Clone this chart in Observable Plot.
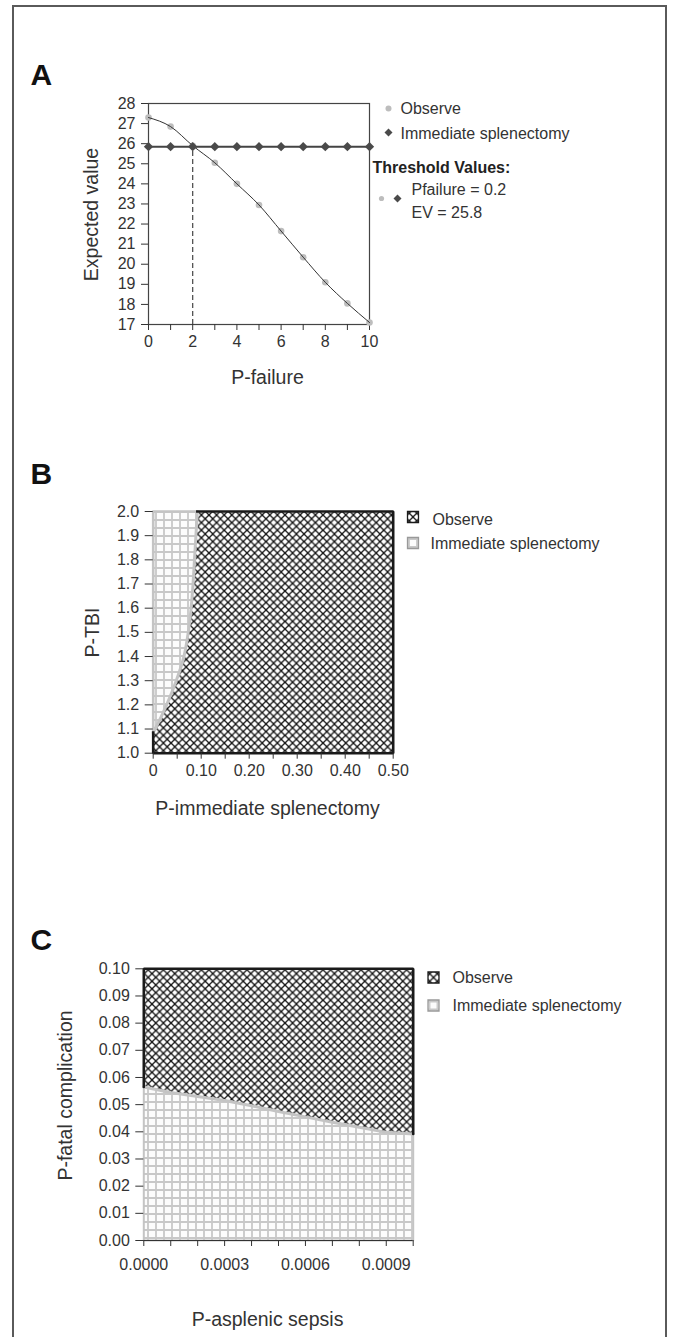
<!DOCTYPE html>
<html>
<head>
<meta charset="utf-8">
<script src="https://cdn.jsdelivr.net/npm/d3@7"></script>
<script src="https://cdn.jsdelivr.net/npm/@observablehq/plot@0.6"></script>
<style>
  body { margin: 0; background: #fff; }
  #page { position: relative; width: 673px; height: 1337px; overflow: hidden; background: #fff; }
  #frame { position: absolute; left: 12px; top: 5px; width: 651px; height: 1400px; border: 2px solid #5a5a5a; border-bottom: none; }
  .panel { position: absolute; left: 0; }
  #defs { position: absolute; width: 0; height: 0; }
</style>
</head>
<body>
<svg id="defs" width="0" height="0">
  <defs>
    <pattern id="xhatch" patternUnits="userSpaceOnUse" width="7.6" height="7.6">
      <rect width="7.6" height="7.6" fill="#ffffff"/>
      <path d="M-1,-1L8.6,8.6M8.6,-1L-1,8.6" stroke="#151515" stroke-width="1.25"/>
      <circle cx="3.8" cy="3.8" r="1.2" fill="#151515"/>
      <circle cx="0" cy="0" r="1.2" fill="#151515"/>
      <circle cx="7.6" cy="0" r="1.2" fill="#151515"/>
      <circle cx="0" cy="7.6" r="1.2" fill="#151515"/>
      <circle cx="7.6" cy="7.6" r="1.2" fill="#151515"/>
    </pattern>
    <pattern id="grid" patternUnits="userSpaceOnUse" width="8" height="8">
      <rect width="8" height="8" fill="#fcfcfc"/>
      <path d="M0,4H8M4,0V8" stroke="#c8c8c8" stroke-width="1.8"/>
    </pattern>
  </defs>
</svg>
<div id="page">
  <div id="frame"></div>
  <div id="pa" class="panel"></div>
  <div id="pb" class="panel"></div>
  <div id="pc" class="panel"></div>
</div>
<script>
// ---------------- Panel A data ----------------
const pFailure     = [0, 1, 2, 3, 4, 5, 6, 7, 8, 9, 10];
const evObserve    = [27.3, 26.85, 25.9, 25.05, 24.0, 22.95, 21.65, 20.35, 19.1, 18.05, 17.1];
const evImmediate  = [25.85, 25.85, 25.85, 25.85, 25.85, 25.85, 25.85, 25.85, 25.85, 25.85, 25.85];
const thresholdP   = 2;
const thresholdEV  = 25.85;
const aXDomain     = [0, 10];
const aYDomain     = [17, 28];
const aXTicks      = [0, 1, 2, 3, 4, 5, 6, 7, 8, 9, 10];
const aYTicks      = [17, 18, 19, 20, 21, 22, 23, 24, 25, 26, 27, 28];
const strategies   = ["Observe", "Immediate splenectomy"];
const thresholdTitle = "Threshold Values:";
const thresholdText  = ["Pfailure = 0.2", "EV = 25.8"];

// ---------------- Panel B data ----------------
const pTBI          = [1.0, 1.085, 1.1, 1.2, 1.3, 1.4, 1.5, 1.6, 1.7, 1.8, 1.9, 2.0];
const splenBoundary = [0, 0, 0.004, 0.028, 0.048, 0.064, 0.073, 0.079, 0.083, 0.086, 0.089, 0.092];
const bXDomain      = [0, 0.5];
const bYDomain      = [1.0, 2.0];
const bXTicks       = [0, 0.05, 0.1, 0.15, 0.2, 0.25, 0.3, 0.35, 0.4, 0.45, 0.5];
const bYTicks       = [1.0, 1.1, 1.2, 1.3, 1.4, 1.5, 1.6, 1.7, 1.8, 1.9, 2.0];

// ---------------- Panel C data ----------------
const pSepsis       = [0, 0.0001, 0.0002, 0.0003, 0.0004, 0.0005, 0.0006, 0.0007, 0.0008, 0.0009, 0.001];
const fatalBoundary = [0.0565, 0.0545, 0.053, 0.0515, 0.0496, 0.0475, 0.0455, 0.0435, 0.0417, 0.0398, 0.0392];
const cXDomain      = [0, 0.001];
const cYDomain      = [0, 0.1];
const cXTicks       = [0, 0.0001, 0.0002, 0.0003, 0.0004, 0.0005, 0.0006, 0.0007, 0.0008, 0.0009, 0.001];
const cYTicks       = [0, 0.01, 0.02, 0.03, 0.04, 0.05, 0.06, 0.07, 0.08, 0.09, 0.1];

// ---------------- styling ----------------
const FONT = "'Liberation Sans', Arial, Helvetica, sans-serif";
const INK = "#333";
const DARK = "#1a1a1a";
const LIGHT = "#c4c4c4";
const TICK_FS = 16;

function place(P, px, py) {
  return {frameAnchor: "top-left", dx: px - P.ml, dy: py - P.top - P.mt};
}
function label(P, str, px, py, extra = {}) {
  return Plot.text([str], {text: d => d, ...place(P, px, py), fill: INK, fontSize: 16,
    textAnchor: "start", lineAnchor: "middle", ...extra});
}
function title(P, str, px, py, rotate = 0) {
  return Plot.text([str], {text: d => d, ...place(P, px, py), fill: INK, fontSize: 19.5,
    textAnchor: "middle", lineAnchor: "middle", rotate});
}
function letter(P, str, px, py) {
  return Plot.text([str], {text: d => d, ...place(P, px, py), fill: "#111", fontSize: 30,
    fontWeight: "bold", textAnchor: "start", lineAnchor: "middle"});
}
function baseStyle() {
  return {fontFamily: FONT, fontSize: TICK_FS + "px", color: INK, background: "transparent", overflow: "visible"};
}

// ---------------- Panel A ----------------
const PA = {top: 40, h: 360, ml: 148, mr: 304, mt: 63, mb: 76};
const obsRows = pFailure.map((p, i) => ({p, ev: evObserve[i]}));
const immRows = pFailure.map((p, i) => ({p, ev: evImmediate[i]}));

const chartA = Plot.plot({
  width: 673, height: PA.h,
  marginLeft: PA.ml, marginRight: PA.mr, marginTop: PA.mt, marginBottom: PA.mb,
  x: {domain: aXDomain},
  y: {domain: aYDomain},
  style: baseStyle(),
  marks: [
    Plot.frame({stroke: "#444", strokeWidth: 1.2}),
    Plot.axisY({ticks: aYTicks, tickSize: 7, tickPadding: 6, label: null, fontSize: TICK_FS}),
    Plot.axisX({ticks: aXTicks, tickFormat: d => d % 2 ? "" : String(d), tickSize: 6, tickPadding: 5, label: null, fontSize: TICK_FS}),
    Plot.ruleX([thresholdP], {y1: aYDomain[0], y2: thresholdEV, stroke: "#444", strokeWidth: 1.2, strokeDasharray: "5,3"}),
    Plot.dot(obsRows, {x: "p", y: "ev", r: 3.3, fill: "#bdbdbd"}),
    Plot.line(obsRows, {x: "p", y: "ev", stroke: "#333", strokeWidth: 1, curve: "monotone-x"}),
    Plot.line(immRows, {x: "p", y: "ev", stroke: "#444", strokeWidth: 2}),
    Plot.dot(immRows, {x: "p", y: "ev", symbol: "diamond2", r: 4.2, fill: "#4a4a4a"}),
    letter(PA, "A", 30, 75),
    title(PA, "Expected value", 91, 214, -90),
    title(PA, "P-failure", 267, 377),
    // legend
    Plot.dot([0], {...place(PA, 388, 108), r: 3, fill: "#bdbdbd"}),
    label(PA, strategies[0], 400, 108),
    Plot.dot([0], {...place(PA, 388, 132), symbol: "diamond2", r: 3.6, fill: "#4a4a4a"}),
    label(PA, strategies[1], 400, 133),
    label(PA, thresholdTitle, 372, 167, {fontWeight: "bold", fill: "#222"}),
    Plot.dot([0], {...place(PA, 381, 198), r: 2.6, fill: "#bdbdbd"}),
    Plot.dot([0], {...place(PA, 397, 198), symbol: "diamond2", r: 3.6, fill: "#4a4a4a"}),
    label(PA, thresholdText[0], 411, 189),
    label(PA, thresholdText[1], 411, 212)
  ]
});
const pa = document.getElementById("pa");
pa.style.top = PA.top + "px";
pa.appendChild(chartA);

// ---------------- Panel B ----------------
const PB = {top: 420, h: 420, ml: 152.7, mr: 280.3, mt: 91, mb: 87.3};
const bRows = pTBI.map((t, i) => ({t, s: splenBoundary[i]}));
const bBoundaryRows = bRows.slice(1);
const bObsEdge = [
  {x: bXDomain[0], y: pTBI[1]}, {x: bXDomain[0], y: bYDomain[0]},
  {x: bXDomain[1], y: bYDomain[0]}, {x: bXDomain[1], y: bYDomain[1]},
  {x: splenBoundary[splenBoundary.length - 1], y: bYDomain[1]}
];
const bImmEdge = [
  {x: bXDomain[0], y: pTBI[1]}, {x: bXDomain[0], y: bYDomain[1]},
  {x: splenBoundary[splenBoundary.length - 1], y: bYDomain[1]}
];

const chartB = Plot.plot({
  width: 673, height: PB.h,
  marginLeft: PB.ml, marginRight: PB.mr, marginTop: PB.mt, marginBottom: PB.mb,
  x: {domain: bXDomain},
  y: {domain: bYDomain},
  style: baseStyle(),
  marks: [
    Plot.areaX(bRows, {y: "t", x1: () => bXDomain[1], x2: "s", fill: "url(#xhatch)"}),
    Plot.areaX(bRows, {y: "t", x1: () => bXDomain[0], x2: "s", fill: "url(#grid)"}),
    Plot.line(bBoundaryRows, {x: "s", y: "t", stroke: LIGHT, strokeWidth: 3, curve: "monotone-y"}),
    Plot.line(bImmEdge, {x: "x", y: "y", stroke: LIGHT, strokeWidth: 2.6}),
    Plot.line(bObsEdge, {x: "x", y: "y", stroke: DARK, strokeWidth: 2.6, strokeLinejoin: "miter", strokeLinecap: "square"}),
    Plot.axisY({ticks: bYTicks, tickFormat: d => d.toFixed(1), tickSize: 8, tickPadding: 6, label: null, fontSize: TICK_FS}),
    Plot.axisX({ticks: bXTicks, tickFormat: d => (Math.round(d * 100) % 10 ? "" : (d === 0 ? "0" : d.toFixed(2))), tickSize: 6, tickPadding: 5, label: null, fontSize: TICK_FS}),
    letter(PB, "B", 30, 474),
    title(PB, "P-TBI", 92, 632, -90),
    title(PB, "P-immediate splenectomy", 267, 808),
    Plot.dot([0], {...place(PB, 412.5, 516.5), symbol: "square", r: 6.2, fill: "url(#xhatch)", stroke: DARK, strokeWidth: 1.3}),
    label(PB, strategies[0], 432, 519),
    Plot.dot([0], {...place(PB, 412.5, 542.5), symbol: "square", r: 6.2, fill: "url(#grid)", stroke: "#999", strokeWidth: 1.3}),
    label(PB, strategies[1], 430, 543)
  ]
});
const pb = document.getElementById("pb");
pb.style.top = PB.top + "px";
pb.appendChild(chartB);

// ---------------- Panel C ----------------
const PC = {top: 890, h: 447, ml: 143.3, mr: 260.3, mt: 78.3, mb: 97};
const cRows = pSepsis.map((s, i) => ({s, f: fatalBoundary[i]}));
const cObsEdge = [
  {x: cXDomain[0], y: fatalBoundary[0]}, {x: cXDomain[0], y: cYDomain[1]},
  {x: cXDomain[1], y: cYDomain[1]}, {x: cXDomain[1], y: fatalBoundary[fatalBoundary.length - 1]}
];
const cImmEdge = [
  {x: cXDomain[0], y: fatalBoundary[0]}, {x: cXDomain[0], y: cYDomain[0]},
  {x: cXDomain[1], y: cYDomain[0]}, {x: cXDomain[1], y: fatalBoundary[fatalBoundary.length - 1]}
];

const chartC = Plot.plot({
  width: 673, height: PC.h,
  marginLeft: PC.ml, marginRight: PC.mr, marginTop: PC.mt, marginBottom: PC.mb,
  x: {domain: cXDomain},
  y: {domain: cYDomain},
  style: baseStyle(),
  marks: [
    Plot.areaY(cRows, {x: "s", y1: "f", y2: () => cYDomain[1], fill: "url(#xhatch)"}),
    Plot.areaY(cRows, {x: "s", y1: () => cYDomain[0], y2: "f", fill: "url(#grid)"}),
    Plot.line(cImmEdge, {x: "x", y: "y", stroke: LIGHT, strokeWidth: 2}),
    Plot.line(cRows, {x: "s", y: "f", stroke: LIGHT, strokeWidth: 3}),
    Plot.line(cObsEdge, {x: "x", y: "y", stroke: DARK, strokeWidth: 2.6, strokeLinejoin: "miter"}),
    Plot.ruleY([cYDomain[0]], {stroke: "#333", strokeWidth: 1.2}),
    Plot.axisY({ticks: cYTicks, tickFormat: d => d.toFixed(2), tickSize: 8, tickPadding: 6, label: null, fontSize: TICK_FS}),
    Plot.axisX({ticks: cXTicks, tickFormat: d => (Math.round(d * 10000) % 3 ? "" : d.toFixed(4)), tickSize: 6, tickPadding: 12, label: null, fontSize: TICK_FS}),
    letter(PC, "C", 30, 940),
    title(PC, "P-fatal complication", 65, 1095, -90),
    title(PC, "P-asplenic sepsis", 267, 1319),
    Plot.dot([0], {...place(PC, 433, 977), symbol: "square", r: 6.2, fill: "url(#xhatch)", stroke: DARK, strokeWidth: 1.3}),
    label(PC, strategies[0], 452, 977),
    Plot.dot([0], {...place(PC, 433, 1005), symbol: "square", r: 6.2, fill: "url(#grid)", stroke: "#999", strokeWidth: 1.3}),
    label(PC, strategies[1], 452, 1005)
  ]
});
const pc = document.getElementById("pc");
pc.style.top = PC.top + "px";
pc.appendChild(chartC);
</script>
</body>
</html>
